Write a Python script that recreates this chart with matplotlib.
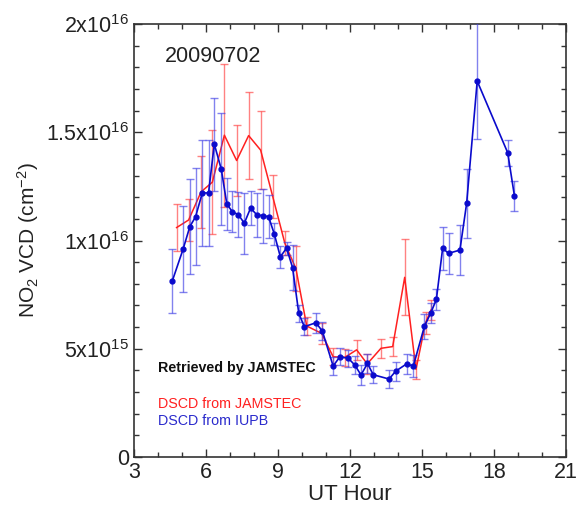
import numpy as np
import matplotlib
matplotlib.use("Agg")
import matplotlib.pyplot as plt
from matplotlib.ticker import MultipleLocator, FixedLocator

plt.rcParams['font.family'] = ['Liberation Sans', 'DejaVu Sans']
plt.rcParams['mathtext.fontset'] = 'custom'
plt.rcParams['mathtext.rm'] = 'Liberation Sans'
plt.rcParams['mathtext.it'] = 'Liberation Sans'

# DSCD from IUPB (blue)
iupb_hour = [4.6, 5.05, 5.33, 5.57, 5.85, 6.11, 6.35, 6.64, 6.87, 7.1, 7.35, 7.6,
             7.86, 8.13, 8.39, 8.61, 8.85, 9.1, 9.36, 9.61, 9.87, 10.1, 10.58,
             10.85, 11.3, 11.58, 11.93, 12.2, 12.46, 12.73, 12.97, 13.63, 13.9,
             14.36, 14.64, 15.1, 15.36, 15.6, 15.86, 16.11, 16.58, 16.86, 17.3,
             18.57, 18.85]
iupb_vcd = [8.13, 9.6, 10.64, 11.1, 12.2, 12.2, 14.46, 13.3, 11.7, 11.33, 11.2, 10.8,
            11.5, 11.18, 11.15, 11.1, 10.3, 9.25, 9.65, 8.75, 6.63, 6.02, 6.2,
            5.82, 4.2, 4.63, 4.56, 4.25, 3.79, 4.32, 3.8, 3.6, 3.96,
            4.3, 4.2, 6.03, 6.64, 7.28, 9.64, 9.41, 9.56, 11.72, 17.37,
            14.06, 12.07]
iupb_err = [1.5, 2.0, 2.2, 2.25, 2.45, 2.45, 2.15, 2.6, 1.2, 0.95, 1.05, 1.4,
            0.8, 1.0, 1.25, 1.0, 0.5, 0.5, 0.3, 1.05, 0.4, 0.4, 0.45,
            0.4, 0.42, 0.4, 0.4, 0.4, 0.45, 0.45, 0.4, 0.42, 0.45,
            0.46, 0.5, 0.58, 0.47, 0.5, 1.0, 0.95, 1.15, 1.6, 2.7,
            0.6, 0.7]

# DSCD from JAMSTEC (red)
jam_hour = [4.78, 5.28, 5.8, 6.27, 6.77, 7.28, 7.78, 8.28, 8.78, 9.29, 9.75, 10.2,
            10.82, 11.3, 11.78, 12.28, 12.72, 13.29, 13.78, 14.28, 14.75, 15.15, 15.38]
jam_vcd = [10.6, 10.95, 12.25, 12.7, 14.87, 13.7, 14.85, 14.18, 12.05, 9.87, 8.7, 6.05,
           5.71, 4.63, 4.6, 4.95, 4.3, 5.02, 5.1, 8.3, 4.05, 6.2, 6.8]
jam_err = [1.1, 0.95, 1.65, 2.4, 3.3, 1.65, 2.0, 1.8, 1.0, 0.55, 1.05, 0.4,
           0.5, 0.4, 0.4, 0.45, 0.45, 0.45, 0.45, 1.75, 0.45, 0.5, 0.45]

scale = 1e15
yticks = [0, 5e15, 1e16, 1.5e16, 2e16]
ytick_labels = ['0', r'5x10$^{15}$', r'1x10$^{16}$', r'1.5x10$^{16}$', r'2x10$^{16}$']

fig = plt.figure(figsize=(5.77, 5.14), dpi=100, facecolor='white')
ax = fig.add_axes([0.232, 0.111, 0.749, 0.842])

ax.errorbar(jam_hour, np.array(jam_vcd) * scale, yerr=np.array(jam_err) * scale,
            color='#ff2020', lw=1.1, ecolor=(1.0, 0.25, 0.25, 0.65), elinewidth=1.0,
            capsize=3, capthick=1.0, zorder=2)
ax.errorbar(iupb_hour, np.array(iupb_vcd) * scale, yerr=np.array(iupb_err) * scale,
            color='#0a0acc', lw=1.2, marker='o', ms=3.5, ecolor=(0.25, 0.25, 0.9, 0.65),
            elinewidth=1.0, capsize=3, capthick=1.0, zorder=3)

ax.set_xlim(3, 21)
ax.set_ylim(0, 2e16)
ax.xaxis.set_major_locator(MultipleLocator(3))
ax.xaxis.set_minor_locator(MultipleLocator(1))
ax.yaxis.set_major_locator(FixedLocator(yticks))
ax.yaxis.set_minor_locator(MultipleLocator(1e15))
ax.set_yticklabels(ytick_labels)
ax.tick_params(which='both', direction='in', top=True, right=True, labelsize=15.5,
               width=1.0, color='#333333', labelcolor='#222222')
ax.tick_params(which='major', length=6)
ax.tick_params(which='minor', length=3.5)
for sp in ax.spines.values():
    sp.set_linewidth(1.2)
    sp.set_color('#333333')

ax.set_xlabel('UT Hour', fontsize=16, labelpad=1, color='#222222')
ax.set_ylabel(r'NO$_2$ VCD (cm$^{-2}$)', fontsize=15, labelpad=4, color='#222222')

ax.text(0.072, 0.925, '20090702', transform=ax.transAxes, fontsize=15.5, color='#222222',
        va='center')
ax.text(0.056, 0.205, 'Retrieved by JAMSTEC', transform=ax.transAxes, fontsize=10.3,
        fontweight='bold', color='#111111', va='center')
ax.text(0.056, 0.122, 'DSCD from JAMSTEC', transform=ax.transAxes, fontsize=10.3,
        color='#ff2020', va='center')
ax.text(0.056, 0.082, 'DSCD from IUPB', transform=ax.transAxes, fontsize=10.3,
        color='#2a2acc', va='center')

fig.savefig('out.png', dpi=100, facecolor='white')
